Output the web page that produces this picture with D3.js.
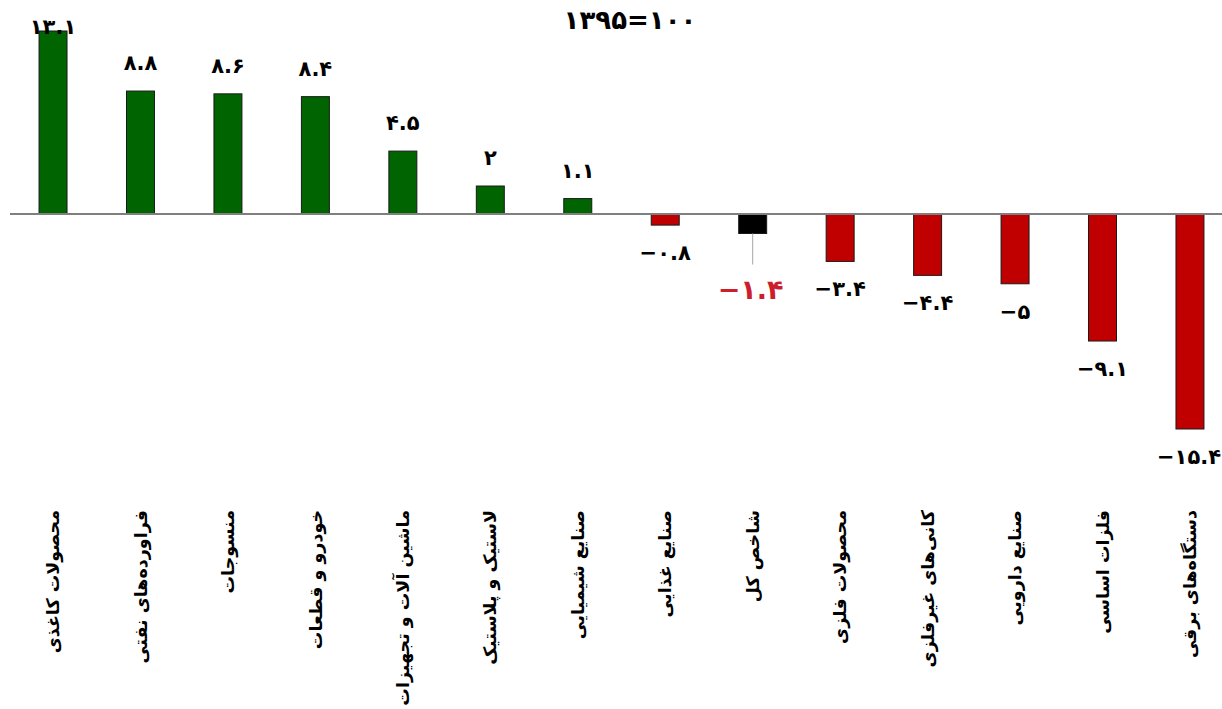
<!DOCTYPE html>
<html lang="fa">
<head>
<meta charset="utf-8">
<script src="https://cdn.jsdelivr.net/npm/d3@7/dist/d3.min.js"></script>
<style>
  html, body { margin: 0; padding: 0; background: #fff; }
  svg { display: block; }
</style>
</head>
<body>
<svg id="chart" width="1222" height="709"></svg>
<script>
// Industry groups, left to right, with their percentage change
const categories = [
  "محصولات کاغذی",
  "فراورده‌های نفتی",
  "منسوجات",
  "خودرو و قطعات",
  "ماشین آلات و تجهیزات",
  "لاستیک و پلاستیک",
  "صنایع شیمیایی",
  "صنایع غذایی",
  "شاخص کل",
  "محصولات فلزی",
  "کانی‌های غیرفلزی",
  "صنایع دارویی",
  "فلزات اساسی",
  "دستگاه‌های برقی"
];
const values = [13.1, 8.8, 8.6, 8.4, 4.5, 2, 1.1, -0.8, -1.4, -3.4, -4.4, -5, -9.1, -15.4];
const totalCategory = "شاخص کل";
const subtitle = "1395=100";

const data = categories.map((c, i) => ({ cat: c, v: values[i] }));

const svg = d3.select("#chart");
const W = 1222;

const x = d3.scaleBand()
  .domain(categories)
  .range([9.3, 1233.7])
  .paddingInner(0.68)
  .paddingOuter(0.34);

const y = d3.scaleLinear()
  .domain([d3.min(values), d3.max(values)])
  .range([429, 31]);

const faDigits = "۰۱۲۳۴۵۶۷۸۹";
const toFa = s => String(s).replace(/[0-9]/g, d => faDigits[+d]);
const fmt = v => (v < 0 ? "\u2212" : "") + toFa(Math.abs(v));

const font = "'DejaVu Sans', 'Noto Sans', sans-serif";

// Bars
svg.append("g")
  .selectAll("rect")
  .data(data)
  .join("rect")
  .attr("x", d => x(d.cat))
  .attr("width", x.bandwidth())
  .attr("y", d => y(Math.max(0, d.v)))
  .attr("height", d => Math.abs(y(d.v) - y(0)))
  .attr("fill", d => d.cat === totalCategory ? "#000000" : (d.v >= 0 ? "#006400" : "#c00000"))
  .attr("stroke", "#1a1a1a")
  .attr("stroke-width", 1);

// Zero line
svg.append("line")
  .attr("x1", 10).attr("x2", W)
  .attr("y1", y(0)).attr("y2", y(0))
  .attr("stroke", "#7f7f7f")
  .attr("stroke-width", 2);

// Value labels (kept inside the right edge)
const regular = data.filter(d => d.cat !== totalCategory);
svg.append("g")
  .selectAll("text")
  .data(regular)
  .join("text")
  .attr("x", d => x(d.cat) + x.bandwidth() / 2)
  .attr("y", d => d.v >= 0 ? Math.max(y(d.v) - 21, 34) : y(d.v) + 35)
  .attr("text-anchor", "middle")
  .attr("direction", "ltr")
  .attr("font-family", font)
  .attr("font-weight", "bold")
  .attr("font-size", 21)
  .attr("fill", "#000")
  .text(d => fmt(d.v))
  .each(function () {
    const t = d3.select(this);
    const half = this.getComputedTextLength() / 2;
    const cx = +t.attr("x");
    if (cx + half > W - 1) t.attr("x", W - 1 - half);
  });

// Total index: leader line and red label
const tot = data.find(d => d.cat === totalCategory);
const tx = x(tot.cat) + x.bandwidth() / 2;
svg.append("line")
  .attr("x1", tx).attr("x2", tx)
  .attr("y1", y(tot.v)).attr("y2", y(tot.v) + 31)
  .attr("stroke", "#a6a6a6")
  .attr("stroke-width", 1);
svg.append("text")
  .attr("x", tx - 2)
  .attr("y", y(tot.v) + 66)
  .attr("text-anchor", "middle")
  .attr("direction", "ltr")
  .attr("font-family", font)
  .attr("font-weight", "bold")
  .attr("font-size", 27)
  .attr("fill", "#cc1f2d")
  .text(fmt(tot.v));

// Base year note
svg.append("text")
  .attr("x", 630)
  .attr("y", 29)
  .attr("text-anchor", "middle")
  .attr("direction", "ltr")
  .attr("font-family", font)
  .attr("font-weight", "bold")
  .attr("font-size", 26)
  .text(toFa(subtitle));

// Category labels, rotated, reading downward
svg.append("g")
  .selectAll("text")
  .data(categories)
  .join("text")
  .attr("transform", c => `translate(${x(c) + x.bandwidth() / 2},510) rotate(-90)`)
  .attr("dy", "0.35em")
  .attr("text-anchor", "end")
  .attr("font-family", font)
  .attr("font-weight", "bold")
  .attr("font-size", 17.5)
  .attr("fill", "#000")
  .text(c => c);
</script>
</body>
</html>
